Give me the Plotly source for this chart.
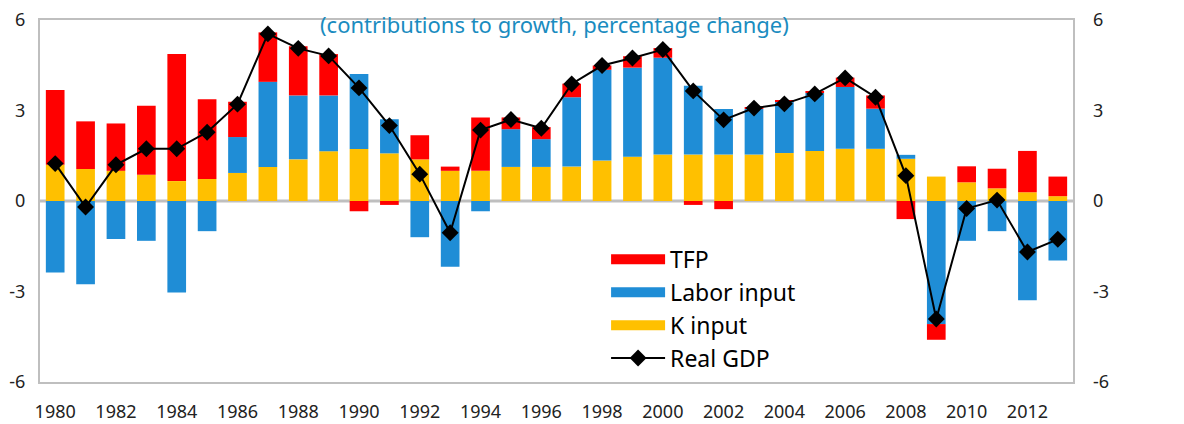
import plotly.graph_objects as go

# 연도 및 성장 기여도 (percentage points)
years = [str(y) for y in range(1980, 2014)]
tick_years = [str(y) for y in range(1980, 2013, 2)]
y_ticks = [-6, -3, 0, 3, 6]
y_ticktext = ['-6', '-3', '0', '3', '6']

k_input = [1.20, 1.06, 1.00, 0.87, 0.66, 0.73, 0.93, 1.13, 1.38, 1.65,
           1.72, 1.58, 1.38, 1.00, 1.00, 1.13, 1.13, 1.14, 1.34, 1.47,
           1.54, 1.54, 1.54, 1.54, 1.59, 1.66, 1.73, 1.73, 1.40, 0.81,
           0.62, 0.42, 0.29, 0.16]
labor_input = [-2.37, -2.76, -1.26, -1.32, -3.03, -1.00, 1.19, 2.82, 2.12, 1.85,
               2.49, 1.13, -1.20, -2.18, -0.34, 1.25, 0.92, 2.30, 3.01, 2.95,
               3.21, 2.28, 1.51, 1.51, 1.71, 1.92, 2.05, 1.33, 0.13, -4.08,
               -1.32, -1.00, -3.29, -1.97]
tfp = [2.48, 1.58, 1.57, 2.29, 4.21, 2.64, 1.17, 1.64, 1.63, 1.37,
       -0.34, -0.13, 0.80, 0.14, 1.77, 0.39, 0.40, 0.45, 0.14, 0.38,
       0.32, -0.13, -0.27, 0.06, 0.02, 0.06, 0.31, 0.44, -0.60, -0.52,
       0.53, 0.65, 1.37, 0.65]
real_gdp = [1.24, -0.20, 1.20, 1.73, 1.73, 2.28, 3.21, 5.54, 5.06, 4.81,
            3.75, 2.50, 0.89, -1.05, 2.35, 2.70, 2.41, 3.88, 4.49, 4.74,
            5.02, 3.65, 2.69, 3.08, 3.22, 3.55, 4.08, 3.44, 0.84, -3.91,
            -0.25, 0.03, -1.69, -1.27]

RED = '#FF0000'
BLUE = '#1F8DD6'
YELLOW = '#FFC000'
GRID = '#BFBFBF'
FONT = 'Noto Sans'

fig = go.Figure()

# 막대 (K -> Labor -> TFP 순으로 쌓기)
fig.add_trace(go.Bar(x=years, y=k_input, name='K input', marker=dict(color=YELLOW, line=dict(width=0)), showlegend=False))
fig.add_trace(go.Bar(x=years, y=labor_input, name='Labor input', marker=dict(color=BLUE, line=dict(width=0)), showlegend=False))
fig.add_trace(go.Bar(x=years, y=tfp, name='TFP', marker=dict(color=RED, line=dict(width=0)), showlegend=False))

# 범례용 (넓은 사각형 모양을 위해 굵은 선 사용)
for name, color, rank in [('TFP', RED, 1), ('Labor input', BLUE, 2), ('K input', YELLOW, 3)]:
    fig.add_trace(go.Scatter(x=[None], y=[None], mode='lines', name=name,
                             line=dict(color=color, width=10), legendrank=rank))

# 실질 GDP 선
fig.add_trace(go.Scatter(x=years, y=real_gdp, name='Real GDP', mode='lines+markers',
                         line=dict(color='black', width=2),
                         marker=dict(symbol='diamond', size=13, color='black'),
                         yaxis='y2', legendrank=4))

# 제목 (그림 맨 위에 붙임)
fig.add_annotation(text='(contributions to growth, percentage change)', xref='paper', yref='paper',
                   x=0.4976, y=1.0, yshift=12, xanchor='center', yanchor='top', showarrow=False,
                   borderpad=0, font=dict(family=FONT, size=22, color='#1A8CC0'))

axis_common = dict(range=[-6, 6], tickmode='array', tickvals=y_ticks, ticktext=y_ticktext,
                   showgrid=False, zeroline=False, automargin=False, ticks='',
                   ticklabeloverflow='allow',
                   tickfont=dict(family=FONT, size=18, color='#222222'))

# 페이지 기본 여백(8px)을 고려한 크기
fig.update_layout(
    width=1176, height=416,
    margin=dict(l=32, r=111, t=12, b=42, autoexpand=False),
    paper_bgcolor='white', plot_bgcolor='white',
    barmode='relative', bargap=0.385,
    font=dict(family=FONT, color='#222222'),
    xaxis=dict(type='category', categoryorder='array', categoryarray=years,
               range=[-0.5, len(years) - 0.5],
               tickmode='array', tickvals=tick_years, ticktext=tick_years,
               showgrid=False, showline=True, mirror=True, linecolor=GRID, linewidth=2,
               ticks='', ticklabelstandoff=12, automargin=False, ticklabeloverflow='allow',
               tickfont=dict(family=FONT, size=18, color='#222222')),
    yaxis=dict(**axis_common, showline=True, mirror=True, linecolor=GRID, linewidth=2,
               ticklabelstandoff=9),
    yaxis2=dict(**axis_common, overlaying='y', side='right', showline=False,
                ticklabelstandoff=19),
    shapes=[dict(type='line', xref='paper', yref='y', x0=0, x1=1, y0=0, y1=0,
                 line=dict(color=GRID, width=3), layer='below')],
    legend=dict(x=0.548, y=0.398, xanchor='left', yanchor='top', bgcolor='rgba(0,0,0,0)',
                font=dict(family=FONT, size=23, color='black'), itemwidth=54,
                tracegroupgap=0),
)

fig.write_html('out.html')
